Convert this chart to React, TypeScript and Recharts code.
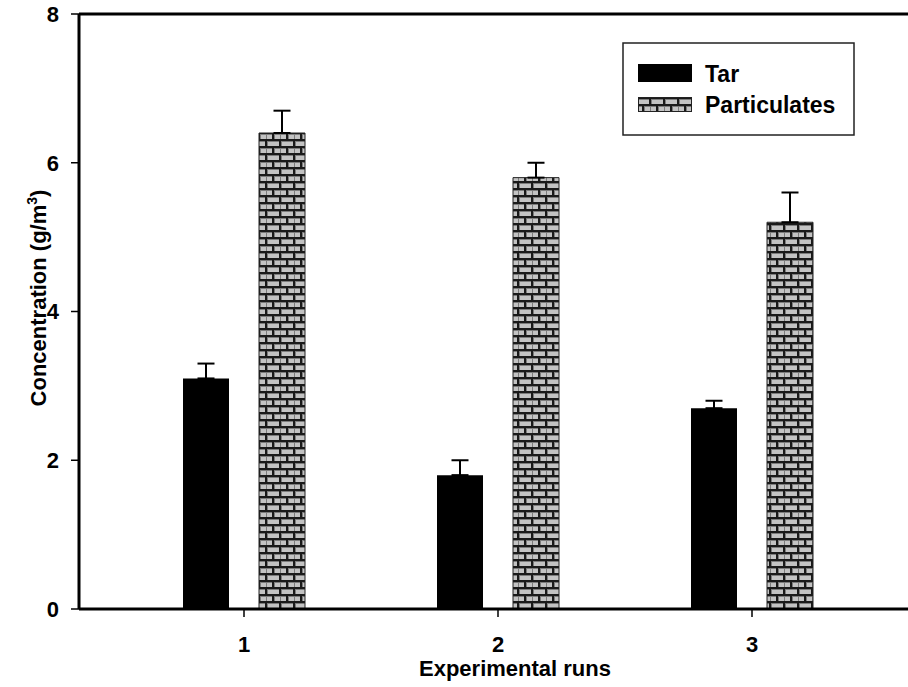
import React from 'react';
import { BarChart, Bar, XAxis, YAxis, ErrorBar, ReferenceLine, Legend, Label } from 'recharts';

const runs = ['1', '2', '3'];
const tar = [3.1, 1.8, 2.7];
const tarErr = [0.2, 0.2, 0.1];
const particulates = [6.4, 5.8, 5.2];
const particulatesErr = [0.3, 0.2, 0.4];
const yTicks = [0, 2, 4, 6, 8];

const data = runs.map((run, i) => ({
  run,
  tar: tar[i],
  tarErr: [0, tarErr[i]],
  particulates: particulates[i],
  partErr: [0, particulatesErr[i]],
}));

const FONT = '"Liberation Sans", Arial, Helvetica, sans-serif';

const BrickPattern = ({ id }: { id: string }) => (
  <pattern id={id} patternUnits="userSpaceOnUse" width={14} height={14}>
    <rect x={0} y={0} width={14} height={14} fill="#1a1a1a" />
    <rect x={1} y={1} width={12} height={5} fill="#7c7c7c" />
    <rect x={2} y={2} width={11} height={4} fill="#c3c3c3" />
    <rect x={0} y={8} width={6} height={5} fill="#7c7c7c" />
    <rect x={1} y={9} width={5} height={4} fill="#c3c3c3" />
    <rect x={8} y={8} width={6} height={5} fill="#7c7c7c" />
    <rect x={9} y={9} width={5} height={4} fill="#c3c3c3" />
  </pattern>
);

const LegendBox = () => (
  <svg width={233} height={94} style={{ display: 'block' }}>
    <defs>
      <BrickPattern id="brickLegend" />
    </defs>
    <rect x={1} y={1} width={231} height={92} fill="#fff" stroke="#222" strokeWidth={1.5} />
    <rect x={16} y={22} width={54} height={18} fill="#000" />
    <rect x={16.5} y={55.5} width={53} height={14} fill="url(#brickLegend)" stroke="#222" strokeWidth={1} />
    <text x={83} y={40} fontFamily={FONT} fontWeight="bold" fontSize={23} fill="#000">Tar</text>
    <text x={83} y={71} fontFamily={FONT} fontWeight="bold" fontSize={23} fill="#000">Particulates</text>
  </svg>
);

export default function App() {
  return (
    <div style={{ position: 'absolute', left: 0, top: 0, background: '#fff', fontFamily: FONT }}>
      <BarChart
        width={908}
        height={687}
        data={data}
        margin={{ top: 14, right: 0, left: 0, bottom: 0 }}
        barGap={30}
        style={{ fontFamily: FONT }}
      >
        <defs>
          <BrickPattern id="brick" />
        </defs>
        <XAxis
          dataKey="run"
          type="category"
          height={78}
          padding={{ left: 38, right: 29 }}
          axisLine={{ stroke: '#000', strokeWidth: 3 }}
          tickLine={{ stroke: '#000', strokeWidth: 1.5 }}
          tickSize={8}
          tickMargin={19}
          tick={{ fill: '#000', fontSize: 22, fontWeight: 'bold', fontFamily: FONT }}
        >
          <Label
            content={() => (
              <text x={515} y={676} textAnchor="middle" fontFamily={FONT} fontWeight="bold" fontSize={22} fill="#000">
                Experimental runs
              </text>
            )}
          />
        </XAxis>
        <YAxis
          type="number"
          domain={[0, 8]}
          ticks={yTicks}
          width={79}
          axisLine={{ stroke: '#000', strokeWidth: 3 }}
          tickLine={{ stroke: '#000', strokeWidth: 1.5 }}
          tickSize={8}
          tickMargin={12}
          tick={{ fill: '#000', fontSize: 22, fontWeight: 'bold', fontFamily: FONT }}
          allowDecimals={false}
        >
          <Label
            content={() => (
              <text
                transform="translate(46,298) rotate(-90)"
                textAnchor="middle"
                fontFamily={FONT}
                fontWeight="bold"
                fontSize={22}
                fill="#000"
              >
                Concentration (g/m
                <tspan dy={-9} fontSize={14}>3</tspan>
                <tspan dy={9}>)</tspan>
              </text>
            )}
          />
        </YAxis>
        <ReferenceLine y={8} stroke="#000" strokeWidth={3} ifOverflow="extendDomain" />
        <Legend
          layout="horizontal"
          verticalAlign="middle"
          align="center"
          content={() => <LegendBox />}
          wrapperStyle={{ position: 'absolute', left: 622, top: 42, width: 233, height: 94 }}
        />
        <Bar dataKey="tar" name="Tar" fill="#000" barSize={46} isAnimationActive={false}>
          <ErrorBar dataKey="tarErr" direction="y" width={8.5} stroke="#000" strokeWidth={2} />
        </Bar>
        <Bar
          dataKey="particulates"
          name="Particulates"
          fill="url(#brick)"
          stroke="#222"
          strokeWidth={1}
          barSize={46}
          isAnimationActive={false}
        >
          <ErrorBar dataKey="partErr" direction="y" width={8.5} stroke="#000" strokeWidth={2} />
        </Bar>
      </BarChart>
    </div>
  );
}
